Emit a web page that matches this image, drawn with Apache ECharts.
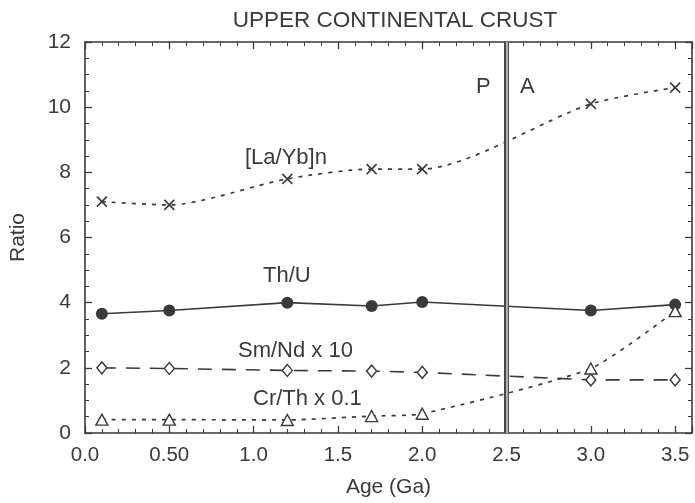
<!DOCTYPE html>
<html><head><meta charset="utf-8">
<script src="https://cdn.jsdelivr.net/npm/echarts@6/dist/echarts.min.js"></script>
<style>html,body{margin:0;padding:0;background:#fff}#c{width:695px;height:503px}</style>
</head><body><div id="c"></div>
<script>
const ages = [0.1, 0.5, 1.2, 1.7, 2.0, 3.0, 3.5];
const laYb = [7.1, 7.0, 7.8, 8.1, 8.1, 10.1, 10.6];
const thU = [3.66, 3.76, 4.0, 3.9, 4.02, 3.76, 3.94];
const smNd = [2.0, 1.98, 1.92, 1.9, 1.86, 1.63, 1.63];
const crTh = [0.41, 0.41, 0.4, 0.52, 0.59, 1.98, 3.74];
const boundaryAge = 2.5;
const xTicks = [0, 0.5, 1.0, 1.5, 2.0, 2.5, 3.0, 3.5];
const xTickLabels = ['0.0', '0.50', '1.0', '1.5', '2.0', '2.5', '3.0', '3.5'];

const C = '#3a3a3a';
const FONT = '"Liberation Sans", Arial, sans-serif';
const pts = v => ages.map((a, i) => [a, v[i]]);

function ax(extra, split) {
  return Object.assign({
    type: 'value',
    axisLine: {show: true, onZero: false, lineStyle: {color: C, width: 1.6}},
    axisTick: {show: true, inside: true, length: 7, lineStyle: {color: C, width: 1.3}},
    minorTick: {show: true, splitNumber: split, length: 4, lineStyle: {color: C, width: 1}},
    splitLine: {show: false},
    minorSplitLine: {show: false}
  }, extra);
}

const chart = echarts.init(document.getElementById('c'));
chart.setOption({
  animation: false,
  textStyle: {fontFamily: FONT},
  title: {text: 'UPPER CONTINENTAL CRUST', left: 390, top: 4, textAlign: 'center',
    textStyle: {fontFamily: FONT, fontSize: 22.5, fontWeight: 'normal', color: C}},
  grid: {left: 82, right: 3, top: 42, bottom: 68},
  xAxis: [
    ax({min: 0, max: 3.6, interval: 0.5, position: 'bottom',
      axisLabel: {color: C, fontSize: 20.5, fontFamily: FONT, margin: 12, showMaxLabel: false,
        formatter: v => { const i = xTicks.findIndex(t => Math.abs(t - v) < 1e-6); return i >= 0 ? xTickLabels[i] : ''; }},
      name: 'Age (Ga)', nameLocation: 'middle', nameGap: 44,
      nameTextStyle: {color: C, fontSize: 21, fontFamily: FONT}}, 5),
    ax({min: 0, max: 3.6, interval: 0.5, position: 'top', axisLabel: {show: false}}, 5)
  ],
  yAxis: [
    ax({min: 0, max: 12, interval: 2, position: 'left',
      axisLabel: {color: C, fontSize: 21, fontFamily: FONT, margin: 14},
      name: 'Ratio', nameLocation: 'middle', nameGap: 56, nameRotate: 90,
      nameTextStyle: {color: C, fontSize: 21, fontFamily: FONT}}, 4),
    ax({min: 0, max: 12, interval: 2, position: 'right', axisLabel: {show: false}}, 4)
  ],
  series: [
    {name: 'boundary-outer', type: 'line', data: [], silent: true,
      markLine: {symbol: 'none', silent: true, label: {show: false},
        lineStyle: {color: '#444', width: 5, type: 'solid'}, data: [{xAxis: boundaryAge}]}},
    {name: 'boundary-inner', type: 'line', data: [], silent: true, z: 3,
      markLine: {symbol: 'none', silent: true, label: {show: false},
        lineStyle: {color: '#b0b0b0', width: 2.2, type: 'solid'}, data: [{xAxis: boundaryAge}]}},
    {name: '[La/Yb]n', type: 'line', data: pts(laYb), smooth: 0.25,
      lineStyle: {color: C, width: 1.7, type: [4, 6]},
      symbol: 'path://M0,0L10,10M10,0L0,10', symbolSize: 10,
      itemStyle: {color: 'none', borderColor: C, borderWidth: 1.6}},
    {name: 'Th/U', type: 'line', data: pts(thU),
      lineStyle: {color: C, width: 1.6},
      symbol: 'circle', symbolSize: 12, itemStyle: {color: C}},
    {name: 'Sm/Nd x 10', type: 'line', data: pts(smNd),
      lineStyle: {color: C, width: 1.6, type: [14, 10]},
      symbol: 'diamond', symbolSize: [10, 12], itemStyle: {color: '#fff', borderColor: C, borderWidth: 1.4}},
    {name: 'Cr/Th x 0.1', type: 'line', data: pts(crTh), smooth: 0.2,
      lineStyle: {color: C, width: 1.7, type: [4, 6]},
      symbol: 'triangle', symbolSize: [12, 11], itemStyle: {color: '#fff', borderColor: C, borderWidth: 1.4}}
  ],
  graphic: [
    {type: 'text', left: 245, top: 147, style: {text: '[La/Yb]n', font: '22px ' + FONT, fill: C}},
    {type: 'text', left: 263, top: 265, style: {text: 'Th/U', font: '22px ' + FONT, fill: C}},
    {type: 'text', left: 238, top: 340, style: {text: 'Sm/Nd x 10', font: '22px ' + FONT, fill: C}},
    {type: 'text', left: 253, top: 388, style: {text: 'Cr/Th x 0.1', font: '22px ' + FONT, fill: C}},
    {type: 'text', left: 476, top: 76, style: {text: 'P', font: '22px ' + FONT, fill: C}},
    {type: 'text', left: 520, top: 76, style: {text: 'A', font: '22px ' + FONT, fill: C}}
  ]
});
</script></body></html>
